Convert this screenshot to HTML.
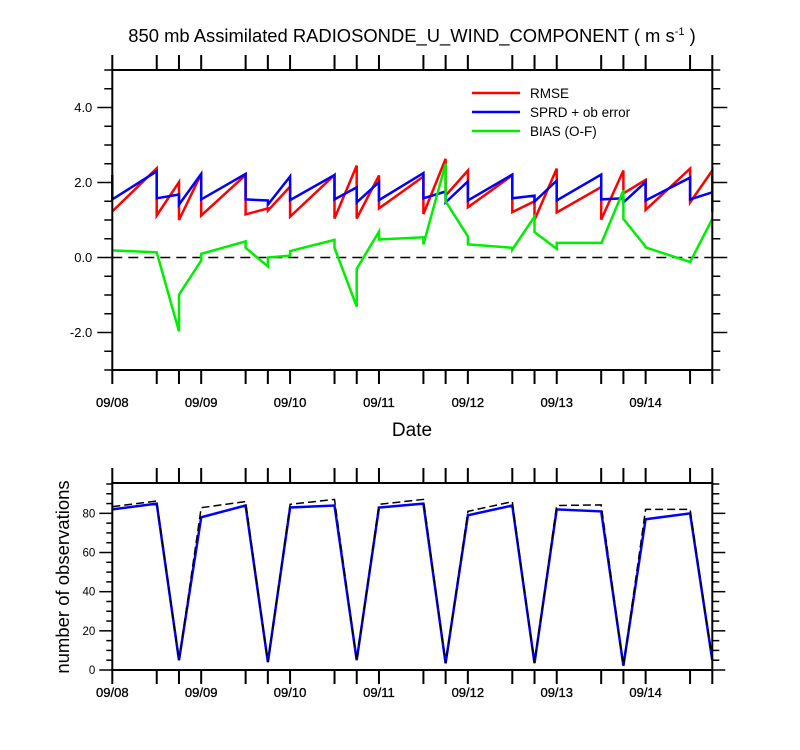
<!DOCTYPE html>
<html><head><meta charset="utf-8"><style>
html,body{margin:0;padding:0;background:#fff;}
svg{display:block;font-family:"Liberation Sans",sans-serif;}
</style></head><body>
<svg id="chart" width="800" height="750" viewBox="0 0 800 750">
<text x="412" y="42" font-size="18.4" text-anchor="middle">850 mb Assimilated RADIOSONDE_U_WIND_COMPONENT ( m s<tspan dy="-7" font-size="11">-1</tspan><tspan dy="7"> )</tspan></text>
<g id="top"></g>
<g id="bot"></g>
<g>
<line x1="472" y1="93" x2="520" y2="93" stroke="#ff0000" stroke-width="2.5"/>
<text x="530" y="98" font-size="13.5">RMSE</text>
<line x1="472" y1="112" x2="520" y2="112" stroke="#0000ff" stroke-width="2.5"/>
<text x="530" y="117" font-size="13.5">SPRD + ob error</text>
<line x1="472" y1="131" x2="520" y2="131" stroke="#00ee00" stroke-width="2.5"/>
<text x="530" y="136" font-size="13.5">BIAS (O-F)</text>
</g>
<text x="412" y="436" font-size="19" text-anchor="middle">Date</text>
<text transform="translate(69,577) rotate(-90)" font-size="18.5" text-anchor="middle">number of observations</text>
</svg>
<script>
// ---- data ----
const cycleTimes = [0,0.5,0.75,1,1.5,1.75,2,2.5,2.75,3,3.5,3.75,4,4.5,4.75,5,5.5,5.75,6,6.5,6.75];
const dayLabels = ["09/08","09/09","09/10","09/11","09/12","09/13","09/14"];
const rmseBefore = [1.23,2.38,2.01,2.23,2.2,1.31,1.89,2.2,2.45,2.19,2.16,2.63,2.32,2.19,1.5,2.37,1.88,2.32,2.07,2.37,2.32];
const rmseAfter  = [1.23,1.12,1.0,1.12,1.15,1.25,1.09,1.04,1.04,1.31,1.16,1.65,1.34,1.21,1.0,1.2,1.01,1.71,1.27,1.47,1.21];
const sprdBefore = [2.2,2.3,1.68,2.23,2.23,1.52,2.16,2.2,1.87,2.01,2.25,1.76,2.03,2.21,1.65,2.05,2.21,1.58,2.01,2.13,1.74];
const sprdAfter  = [1.55,1.58,1.41,1.55,1.55,1.41,1.53,1.55,1.47,1.53,1.58,1.47,1.52,1.58,1.49,1.52,1.55,1.47,1.52,1.55,1.74];
const biasBefore = [0.19,0.14,-1.97,-0.08,0.43,-0.24,0.05,0.47,-1.31,0.69,0.54,2.5,0.56,0.26,1.09,0.23,0.39,1.79,0.29,-0.12,1.03];
const biasAfter  = [0.19,0.14,-0.99,0.1,0.26,0.0,0.17,0.26,-0.3,0.48,0.35,1.5,0.35,0.21,0.68,0.39,0.37,1.03,0.27,-0.12,1.03];
const obsUsed  = [82,85,5,78,84,4,83,84,5,83,85,3.4,79,84,3.5,82,81,2.2,77,80,5];
const obsTotal = [83.4,86.3,5,82.9,86,4,84.6,87.1,5,84.6,87.1,3.4,81,86,3.5,84,84.3,2.2,82,82,5];
const topYTicks = ["4.0","2.0","0.0","-2.0"];
const botYTicks = ["0","20","40","60","80"];

const NS="http://www.w3.org/2000/svg";
function mk(parent,tag,attrs){const e=document.createElementNS(NS,tag);for(const k in attrs)e.setAttribute(k,attrs[k]);parent.appendChild(e);return e;}
const X0=112.3,X1=712.3,TMAX=6.75;
const xs=t=>X0+(X1-X0)*t/TMAX;
const TT=70,TB=370,TVMAX=5,TVMIN=-3;
const ysT=v=>TT+(TVMAX-v)/(TVMAX-TVMIN)*(TB-TT);
const BT=483,BB=670,BVMAX=95.5,BVMIN=0;
const ysB=v=>BB-(v-BVMIN)/(BVMAX-BVMIN)*(BB-BT);

function frame(g,top,bot,name){
  const r=mk(g,'rect',{x:X0,y:top,width:X1-X0,height:bot-top,fill:'none',stroke:'#000','stroke-width':2});
  
  
  cycleTimes.forEach(t=>{
    const x=xs(t);
    const a=mk(g,'line',{x1:x,y1:top,x2:x,y2:top-15,stroke:'#000','stroke-width':2});
    
    
    const b=mk(g,'line',{x1:x,y1:bot,x2:x,y2:bot+14,stroke:'#000','stroke-width':2});
    
    
  });
}
function xLabels(g,y){
  dayLabels.forEach((s,i)=>{
    const t=mk(g,'text',{x:xs(i),y:y,'font-size':13,'text-anchor':'middle','stroke':'#000','stroke-width':0.3});
    t.textContent=s;
    
    
  });
}
function path(g,pts,attrs,name){
  const d=pts.map((p,i)=>(i?'L':'M')+p[0].toFixed(1)+','+p[1].toFixed(1)).join('');
  const e=mk(g,'path',Object.assign({d:d,fill:'none','stroke-linejoin':'miter'},attrs));
  
  
}
const gt=document.getElementById('top');
for(let v=-3;v<=5.001;v+=0.5){
  const y=ysT(v);const lab=Math.abs(v%2)<1e-6;
  const l1=mk(gt,'line',{x1:X0,y1:y,x2:X0-(lab?15:8),y2:y,stroke:'#000','stroke-width':1.5});
  
  
  const l2=mk(gt,'line',{x1:X1,y1:y,x2:X1+(lab?15:8),y2:y,stroke:'#000','stroke-width':1.5});
  
  
}
topYTicks.forEach(s=>{
  const t=mk(gt,'text',{x:X0-20,y:ysT(parseFloat(s))+4.5,'font-size':13,'text-anchor':'end'});
  t.textContent=s;
  
  
});
const zl=mk(gt,'line',{x1:X0,y1:ysT(0),x2:X1,y2:ysT(0),stroke:'#000','stroke-width':1.6,'stroke-dasharray':'10 6'});


function twoPts(bef,aft,sc){const p=[];cycleTimes.forEach((t,i)=>{p.push([xs(t),sc(bef[i])]);p.push([xs(t),sc(aft[i])]);});return p;}
path(gt,twoPts(rmseBefore,rmseAfter,ysT),{stroke:'#ff0000','stroke-width':2.5},'rmse-line');
path(gt,twoPts(sprdBefore,sprdAfter,ysT),{stroke:'#0000ff','stroke-width':2.5},'sprd-line');
path(gt,twoPts(biasBefore,biasAfter,ysT),{stroke:'#00ee00','stroke-width':2.5},'bias-line');
frame(gt,TT,TB,'top-plot');
xLabels(gt,407);
const gb=document.getElementById('bot');
for(let v=0;v<=95;v+=5){
  const y=ysB(v);const lab=v%20===0;
  const l1=mk(gb,'line',{x1:X0,y1:y,x2:X0-(lab?13:6),y2:y,stroke:'#000','stroke-width':1.5});
  
  
  const l2=mk(gb,'line',{x1:X1,y1:y,x2:X1+(lab?13:7),y2:y,stroke:'#000','stroke-width':1.5});
  
  
}
botYTicks.forEach(s=>{
  const t=mk(gb,'text',{x:X0-17,y:ysB(parseFloat(s))+4,'font-size':11.5,'text-anchor':'end'});
  t.textContent=s;
  
  
});
path(gb,cycleTimes.map((t,i)=>[xs(t),ysB(obsUsed[i])]),{stroke:'#0000ff','stroke-width':2.5},'obs-used-line');
path(gb,cycleTimes.map((t,i)=>[xs(t),ysB(obsTotal[i])]),{stroke:'#000','stroke-width':1.5,'stroke-dasharray':'8 4'},'obs-total-line');
frame(gb,BT,BB,'bottom-plot');
xLabels(gb,697);
</script>
</body></html>
